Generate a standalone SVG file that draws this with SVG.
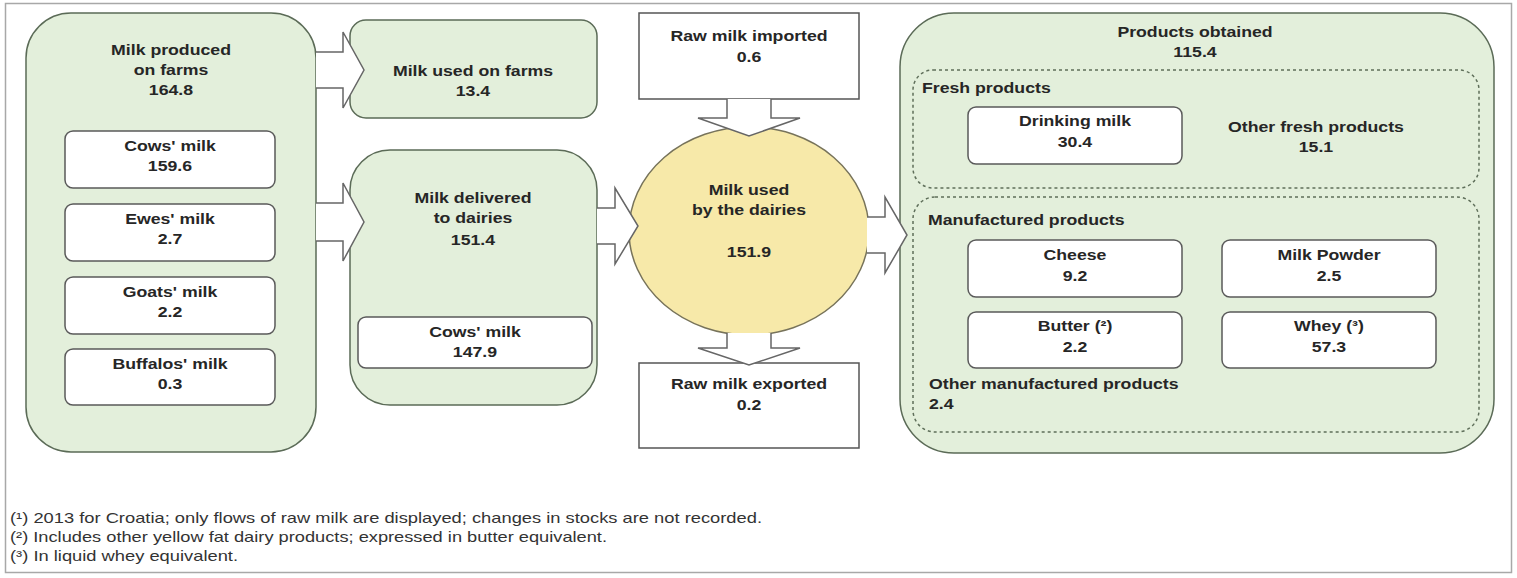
<svg xmlns="http://www.w3.org/2000/svg" width="1517" height="578" viewBox="0 0 1517 578">
<style>
.frame{fill:#fff;stroke:#a8a8a8;stroke-width:1.5}
.g{fill:#e3efdb;stroke:#5b6b57;stroke-width:1.5}
.w{fill:#fff;stroke:#5a5a5a;stroke-width:1.5}
.sq{fill:#fff;stroke:#555;stroke-width:1.5}
.el{fill:#f7e9a9;stroke:#77735a;stroke-width:1.5}
.d{fill:none;stroke:#5f6f5a;stroke-width:1.5;stroke-dasharray:3 3}
.ar{fill:#fff;stroke:#666;stroke-width:1.5;stroke-linejoin:miter}
.t{font-family:"Liberation Sans",Arial,sans-serif;font-size:15px;font-weight:bold;fill:#262626;text-anchor:middle}
.ts{font-family:"Liberation Sans",Arial,sans-serif;font-size:15px;font-weight:bold;fill:#262626;text-anchor:start}
.fn{font-family:"Liberation Sans",Arial,sans-serif;font-size:15px;fill:#333}
</style>
<rect class="frame" x="5.5" y="3.5" width="1506" height="569"/>

<g id="farms">
<rect class="g" x="26" y="13" width="290" height="439" rx="45"/>
<text class="t" transform="translate(171,55) scale(1.18,1)"><tspan x="0" y="0">Milk produced</tspan><tspan x="0" y="20">on farms</tspan><tspan x="0" y="40">164.8</tspan></text>
</g>
<g id="cows">
<rect class="w" x="65" y="131" width="210" height="57" rx="8"/>
<text class="t" transform="translate(170,151) scale(1.18,1)"><tspan x="0" y="0">Cows' milk</tspan><tspan x="0" y="20">159.6</tspan></text>
</g>
<g id="ewes">
<rect class="w" x="65" y="204" width="210" height="57" rx="8"/>
<text class="t" transform="translate(170,224) scale(1.18,1)"><tspan x="0" y="0">Ewes' milk</tspan><tspan x="0" y="20">2.7</tspan></text>
</g>
<g id="goats">
<rect class="w" x="65" y="277" width="210" height="57" rx="8"/>
<text class="t" transform="translate(170,297) scale(1.18,1)"><tspan x="0" y="0">Goats' milk</tspan><tspan x="0" y="20">2.2</tspan></text>
</g>
<g id="buffalos">
<rect class="w" x="65" y="349" width="210" height="56" rx="8"/>
<text class="t" transform="translate(170,369) scale(1.18,1)"><tspan x="0" y="0">Buffalos' milk</tspan><tspan x="0" y="20">0.3</tspan></text>
</g>

<g id="used-on-farms">
<rect class="g" x="350" y="20" width="247" height="98" rx="16"/>
<text class="t" transform="translate(473,76) scale(1.18,1)"><tspan x="0" y="0">Milk used on farms</tspan><tspan x="0" y="20">13.4</tspan></text>
</g>
<g id="delivered">
<rect class="g" x="350" y="150" width="247" height="255" rx="40"/>
<text class="t" transform="translate(473,203) scale(1.18,1)"><tspan x="0" y="0">Milk delivered</tspan><tspan x="0" y="20">to dairies</tspan><tspan x="0" y="42">151.4</tspan></text>
</g>
<g id="delivered-cows">
<rect class="w" x="358" y="317" width="234" height="51" rx="8"/>
<text class="t" transform="translate(475,337) scale(1.18,1)"><tspan x="0" y="0">Cows' milk</tspan><tspan x="0" y="20">147.9</tspan></text>
</g>

<g id="imported">
<rect class="sq" x="639" y="13" width="220" height="86"/>
<text class="t" transform="translate(749,41) scale(1.18,1)"><tspan x="0" y="0">Raw milk imported</tspan><tspan x="0" y="21">0.6</tspan></text>
</g>
<g id="dairies">
<ellipse class="el" cx="749" cy="231" rx="120" ry="104"/>
<text class="t" transform="translate(749,195) scale(1.18,1)"><tspan x="0" y="0">Milk used</tspan><tspan x="0" y="20">by the dairies</tspan><tspan x="0" y="62">151.9</tspan></text>
</g>
<g id="exported">
<rect class="sq" x="639" y="363" width="220" height="85"/>
<text class="t" transform="translate(749,389) scale(1.18,1)"><tspan x="0" y="0">Raw milk exported</tspan><tspan x="0" y="21">0.2</tspan></text>
</g>

<g id="products">
<rect class="g" x="900" y="13" width="594" height="440" rx="54"/>
<text class="t" transform="translate(1195,37) scale(1.18,1)"><tspan x="0" y="0">Products obtained</tspan><tspan x="0" y="20">115.4</tspan></text>
</g>
<g id="fresh">
<rect class="d" x="913" y="70" width="566" height="118" rx="20"/>
<text class="ts" transform="translate(922,93) scale(1.18,1)">Fresh products</text>
</g>
<g id="drinking">
<rect class="w" x="968" y="107" width="214" height="57" rx="8"/>
<text class="t" transform="translate(1075,126) scale(1.18,1)"><tspan x="0" y="0">Drinking milk</tspan><tspan x="0" y="21">30.4</tspan></text>
</g>
<g id="other-fresh">
<text class="t" transform="translate(1316,132) scale(1.18,1)"><tspan x="0" y="0">Other fresh products</tspan><tspan x="0" y="20">15.1</tspan></text>
</g>
<g id="manufactured">
<rect class="d" x="913" y="197" width="566" height="235" rx="22"/>
<text class="ts" transform="translate(928,225) scale(1.18,1)">Manufactured products</text>
</g>
<g id="cheese">
<rect class="w" x="968" y="240" width="214" height="57" rx="8"/>
<text class="t" transform="translate(1075,260) scale(1.18,1)"><tspan x="0" y="0">Cheese</tspan><tspan x="0" y="21">9.2</tspan></text>
</g>
<g id="powder">
<rect class="w" x="1222" y="240" width="214" height="57" rx="8"/>
<text class="t" transform="translate(1329,260) scale(1.18,1)"><tspan x="0" y="0">Milk Powder</tspan><tspan x="0" y="21">2.5</tspan></text>
</g>
<g id="butter">
<rect class="w" x="968" y="312" width="214" height="56" rx="8"/>
<text class="t" transform="translate(1075,331) scale(1.18,1)"><tspan x="0" y="0">Butter (²)</tspan><tspan x="0" y="21">2.2</tspan></text>
</g>
<g id="whey">
<rect class="w" x="1222" y="312" width="214" height="56" rx="8"/>
<text class="t" transform="translate(1329,331) scale(1.18,1)"><tspan x="0" y="0">Whey (³)</tspan><tspan x="0" y="21">57.3</tspan></text>
</g>
<g id="other-manufactured">
<text class="ts" transform="translate(929,389) scale(1.18,1)"><tspan x="0" y="0">Other manufactured products</tspan><tspan x="0" y="20">2.4</tspan></text>
</g>

<g id="connectors">
<path class="ar" d="M316,52 L343,52 L343,32 L364,70 L343,108 L343,88 L316,88"/>
<path class="ar" d="M316,203 L343,203 L343,183 L364,222 L343,261 L343,241 L316,241"/>
<path class="ar" d="M597,208 L615,208 L615,188 L638,226 L615,264 L615,244 L597,244"/>
<path class="ar" d="M727,99 L727,118 L698,118 L749,136 L800,118 L771,118 L771,99"/>
<path class="ar" d="M727,333 L727,348 L698,348 L749,365 L800,348 L771,348 L771,333"/>
<path class="ar" d="M867,217 L885,217 L885,197 L907,235 L885,273 L885,253 L867,253"/>
</g>

<g id="footnotes">
<text class="fn" x="10" y="523" textLength="752" lengthAdjust="spacingAndGlyphs">(¹) 2013 for Croatia; only flows of raw milk are displayed; changes in stocks are not recorded.</text>
<text class="fn" x="10" y="542" textLength="597" lengthAdjust="spacingAndGlyphs">(²) Includes other yellow fat dairy products; expressed in butter equivalent.</text>
<text class="fn" x="10" y="561" textLength="228" lengthAdjust="spacingAndGlyphs">(³) In liquid whey equivalent.</text>
</g>
</svg>
